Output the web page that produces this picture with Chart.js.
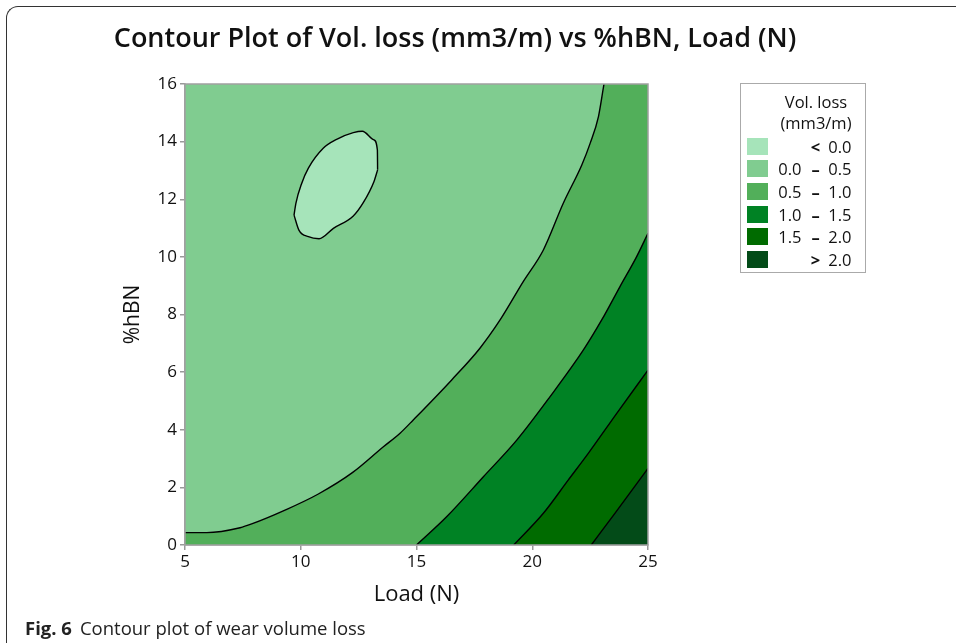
<!DOCTYPE html>
<html>
<head>
<meta charset="utf-8">
<script src="https://cdn.jsdelivr.net/npm/chart.js@4.4.1/dist/chart.umd.min.js"></script>
<style>
  html, body { margin: 0; padding: 0; background: #fff; }
  body { width: 956px; height: 643px; position: relative; overflow: hidden; font-family: "Open Sans", "Noto Sans", sans-serif; }
  #frame { position: absolute; left: 6px; top: 6px; width: 1200px; height: 900px;
           border-top: 1.5px solid #333; border-left: 1.5px solid #333; border-top-left-radius: 12px; }
  #wrap { position: absolute; left: 0; top: 0; width: 956px; height: 643px; }
  #title { position: absolute; left: 0; width: 910px; top: 18px; text-align: center;
           font-size: 27px; font-weight: 600; color: #111; white-space: nowrap; }
  #legend { position: absolute; left: 740px; top: 83px; width: 124px; height: 188px;
            border: 1.5px solid #aaa; background: #fff; color: #111; }
  #legend .hd { position: absolute; left: 0; width: 150px; text-align: center; font-size: 16.5px; line-height: 22px; }
  #legend .sw { position: absolute; left: 5.5px; width: 21px; height: 17px; }
  #legend .lo, #legend .da, #legend .hi { position: absolute; font-size: 16.5px; line-height: 17px; height: 17px; }
  #legend .lo { left: 20px; width: 40.5px; text-align: right; }
  #legend .da { left: 64.5px; width: 20px; text-align: center; font-weight: 700; }
  #legend .hi { left: 70px; width: 40.5px; text-align: right; }
  #caption { position: absolute; left: 25px; top: 615px; font-size: 18.5px; color: #222; white-space: nowrap; }
  #caption b { font-weight: 700; margin-right: 8px; }
</style>
</head>
<body>
<div id="frame"></div>
<div id="wrap"><canvas id="c" width="956" height="643"></canvas></div>
<div id="title">Contour Plot of Vol. loss (mm3/m) vs %hBN, Load (N)</div>
<div id="legend"></div>
<div id="caption"><b>Fig. 6</b>Contour plot of wear volume loss</div>
<script>
// ---- data ----
const legendTitle = ["Vol. loss", "(mm3/m)"];
const levelLow  = ["",  "0.0", "0.5", "1.0", "1.5", ""];
const levelSep  = ["<", "–",   "–",   "–",   "–",   ">"];
const levelHigh = ["0.0", "0.5", "1.0", "1.5", "2.0", "2.0"];
const levelColors = ["#A6E4BA", "#80CC90", "#52AF5A", "#008224", "#006B00", "#034B18"];

const xTicks = [5, 10, 15, 20, 25];
const yTicks = [0, 2, 4, 6, 8, 10, 12, 14, 16];

// contour 0.0 (closed loop, split into upper / lower halves)
const c00UpLoad = [9.71, 9.79, 10.04, 10.33, 10.97, 11.55, 12.27, 12.66, 13.16, 13.31, 13.32];
const c00UpHbn  = [11.45, 11.86, 12.55, 13.08, 13.77, 14.08, 14.31, 14.36, 14.06, 13.71, 13.02];
const c00LoLoad = [9.71, 9.92, 10.33, 10.79, 11.41, 12.27, 12.70, 13.16, 13.32];
const c00LoHbn  = [11.45, 10.93, 10.70, 10.63, 10.99, 11.42, 11.88, 12.61, 13.02];

// contour 0.5 (continues just past the top edge so the band closes at the right)
const c05Load = [5.0, 5.94, 7.38, 7.88, 9.32, 10.76, 12.23, 13.57, 14.29, 14.86, 16.52, 17.74, 18.61, 19.61, 20.48, 21.34, 22.14, 22.50, 22.86, 23.10, 23.40, 25.0];
const c05Hbn  = [0.43, 0.43, 0.60, 0.73, 1.21, 1.77, 2.51, 3.41, 3.88, 4.34, 5.73, 6.83, 7.81, 9.14, 10.24, 11.86, 13.19, 13.94, 14.87, 16.0, 17.3, 17.3];
// contour 1.0
const c10Load = [15.0, 16.30, 17.89, 19.33, 20.77, 22.21, 23.0, 23.79, 24.51, 25.0];
const c10Hbn  = [0.0, 0.98, 2.37, 3.64, 5.15, 6.77, 7.81, 8.97, 10.01, 10.82];
// contour 1.5
const c15Load = [19.2, 20.48, 21.56, 22.42, 23.65, 25.0];
const c15Hbn  = [0.0, 1.10, 2.26, 3.18, 4.57, 6.07];
// contour 2.0
const c20Load = [22.55, 23.57, 25.0];
const c20Hbn  = [0.0, 1.10, 2.66];
// plot extent (for the base level)
const baseLoad = [5, 25];
const baseHbn  = [16, 16];

// ---- legend ----
const lg = document.getElementById('legend');
let html = '<div class="hd" style="top:7px">' + legendTitle[0] + '</div>' +
           '<div class="hd" style="top:28px">' + legendTitle[1] + '</div>';
const rowTop = 53.5, rowStep = 22.7;
levelColors.forEach((c, i) => {
  const t = rowTop + i * rowStep;
  html += '<div class="sw" style="top:' + t + 'px;background:' + c + '"></div>';
  html += '<div class="lo" style="top:' + t + 'px">' + levelLow[i] + '</div>';
  html += '<div class="da" style="top:' + t + 'px">' + levelSep[i] + '</div>';
  html += '<div class="hi" style="top:' + t + 'px">' + levelHigh[i] + '</div>';
});
lg.innerHTML = html;

// ---- chart ----
const pts = (xs, ys) => xs.map((x, i) => ({x: x, y: ys[i]}));
const lineStyle = { showLine: true, pointRadius: 0, pointHoverRadius: 0, borderColor: '#000', borderWidth: 1.4,
                    cubicInterpolationMode: 'monotone' };

const frameBorder = {
  id: 'frameBorder',
  afterDatasetsDraw(chart) {
    const a = chart.chartArea, ctx = chart.ctx;
    ctx.save();
    ctx.strokeStyle = '#a0a0a0';
    ctx.lineWidth = 1.5;
    ctx.strokeRect(a.left, a.top, a.right - a.left, a.bottom - a.top);
    ctx.restore();
  }
};

new Chart(document.getElementById('c'), {
  type: 'scatter',
  data: {
    datasets: [
      Object.assign({}, lineStyle, { data: pts(c00UpLoad, c00UpHbn), fill: '+1', backgroundColor: levelColors[0], order: 1 }),
      Object.assign({}, lineStyle, { data: pts(c00LoLoad, c00LoHbn), fill: false, order: 1 }),
      Object.assign({}, lineStyle, { data: pts(c20Load, c20Hbn), fill: 'start', backgroundColor: levelColors[5], order: 2 }),
      Object.assign({}, lineStyle, { data: pts(c15Load, c15Hbn), fill: 'start', backgroundColor: levelColors[4], order: 3 }),
      Object.assign({}, lineStyle, { data: pts(c10Load, c10Hbn), fill: 'start', backgroundColor: levelColors[3], order: 4 }),
      Object.assign({}, lineStyle, { data: pts(c05Load, c05Hbn), fill: 'start', backgroundColor: levelColors[2], order: 5 }),
      { data: pts(baseLoad, baseHbn), showLine: true, pointRadius: 0, borderWidth: 0, borderColor: 'rgba(0,0,0,0)',
        fill: 'start', backgroundColor: levelColors[1], order: 6 }
    ]
  },
  options: {
    responsive: false,
    animation: false,
    events: [],
    layout: { padding: { left: 110, right: 308, top: 84, bottom: 28 } },
    plugins: {
      legend: { display: false },
      tooltip: { enabled: false },
      title: { display: false },
      filler: { drawTime: 'beforeDatasetsDraw', propagate: false }
    },
    scales: {
      x: {
        type: 'linear', min: 5, max: 25,
        afterBuildTicks: s => { s.ticks = xTicks.map(v => ({value: v})); },
        afterFit: s => { s.height = 70; },
        ticks: { color: '#111', font: { family: 'Open Sans', size: 17 }, padding: 2, maxRotation: 0 },
        grid: { display: true, drawOnChartArea: false, drawTicks: true, tickLength: 5, color: '#999', lineWidth: 1.5 },
        border: { display: true, color: '#a0a0a0', width: 1.5 },
        title: { display: true, text: 'Load (N)', color: '#111', font: { family: 'Open Sans', size: 22 }, padding: { top: 0, bottom: 7 } }
      },
      y: {
        type: 'linear', min: 0, max: 16,
        afterBuildTicks: s => { s.ticks = yTicks.map(v => ({value: v})); },
        afterFit: s => { s.width = 75; },
        ticks: { color: '#111', font: { family: 'Open Sans', size: 17 }, padding: 3 },
        grid: { display: true, drawOnChartArea: false, drawTicks: true, tickLength: 5, color: '#999', lineWidth: 1.5 },
        border: { display: true, color: '#a0a0a0', width: 1.5 },
        title: { display: true, text: '%hBN', color: '#111', font: { family: 'Open Sans', size: 21 }, padding: { top: 10, bottom: 0 } }
      }
    }
  },
  plugins: [frameBorder]
});
</script>
</body>
</html>
